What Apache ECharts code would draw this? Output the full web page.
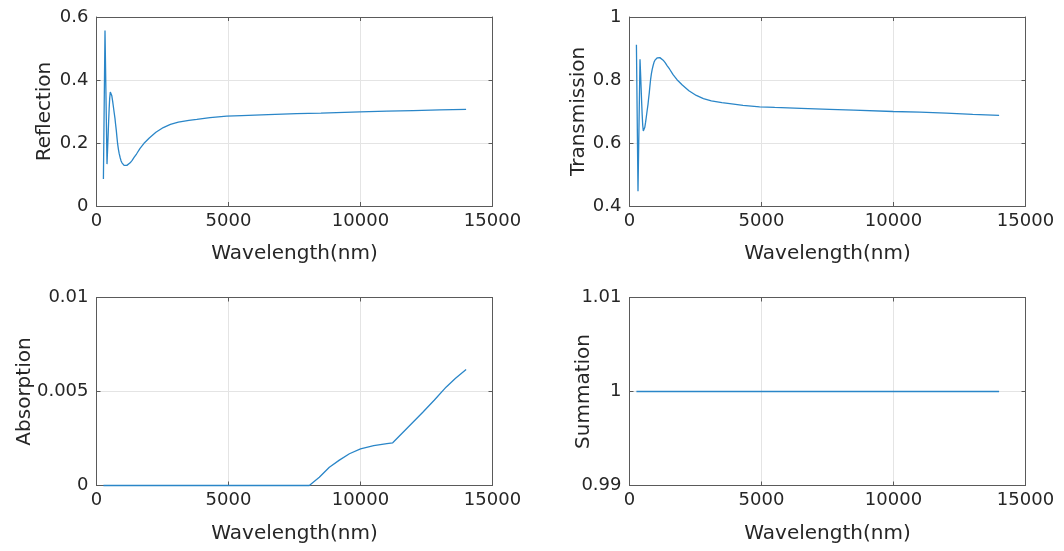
<!DOCTYPE html>
<html><head><meta charset="utf-8">
<script src="https://cdn.jsdelivr.net/npm/echarts@6/dist/echarts.min.js"></script>
<style>html,body{margin:0;padding:0;background:#fff}#c{width:1064px;height:551px}</style>
</head><body><div id="c"></div>
<script>
// ---- data ----
const xLabel = 'Wavelength(nm)';
const wlRT = [262, 322, 398, 420, 440, 460, 480, 500, 523, 550, 580, 610, 640, 670, 700, 720, 750, 775, 801, 830, 860, 895, 928, 965, 1000, 1045, 1091, 1150, 1200, 1275, 1350, 1430, 1515, 1650, 1800, 2000, 2250, 2530, 2800, 3100, 3500, 3800, 4300, 4930, 5500, 6500, 7580, 8500, 9980, 11000, 12000, 13000, 14000];
const reflection = [0.086, 0.557, 0.133, 0.18, 0.225, 0.27, 0.31, 0.343, 0.362, 0.359, 0.35, 0.334, 0.315, 0.296, 0.278, 0.262, 0.24, 0.218, 0.197, 0.18, 0.166, 0.154, 0.144, 0.137, 0.133, 0.129, 0.128, 0.129, 0.131, 0.137, 0.145, 0.155, 0.165, 0.183, 0.199, 0.216, 0.234, 0.249, 0.259, 0.266, 0.272, 0.275, 0.2805, 0.285, 0.287, 0.290, 0.293, 0.295, 0.299, 0.301, 0.303, 0.305, 0.3067];
const transmission = [0.912, 0.447, 0.866, 0.82, 0.775, 0.73, 0.69, 0.657, 0.638, 0.641, 0.65, 0.666, 0.685, 0.704, 0.722, 0.738, 0.76, 0.782, 0.803, 0.82, 0.834, 0.846, 0.856, 0.863, 0.867, 0.87, 0.871, 0.871, 0.869, 0.863, 0.855, 0.845, 0.835, 0.817, 0.801, 0.784, 0.766, 0.751, 0.741, 0.734, 0.728, 0.725, 0.7195, 0.715, 0.713, 0.71, 0.707, 0.7045, 0.700, 0.698, 0.695, 0.691, 0.688];
const wlA = [262, 2000, 4000, 6000, 8060, 8440, 8820, 9200, 9580, 10000, 10500, 11000, 11220, 11800, 12360, 12800, 13240, 13600, 14000];
const absorption = [0, 0, 0, 0, 0, 0.00044, 0.00097, 0.00135, 0.00169, 0.00195, 0.00212, 0.00223, 0.00227, 0.0031, 0.0039, 0.00455, 0.00523, 0.0057, 0.00617];
const wlS = [262, 3500, 7000, 10500, 14000];
const summation = [1, 1, 1, 1, 1];

const panels = [
  {name: 'Reflection',   wl: wlRT, y: reflection,   min: 0,    max: 0.6,  step: 0.2,   gap: 42},
  {name: 'Transmission', wl: wlRT, y: transmission, min: 0.4,  max: 1,    step: 0.2,   gap: 41},
  {name: 'Absorption',   wl: wlA,  y: absorption,   min: 0,    max: 0.01, step: 0.005, gap: 62},
  {name: 'Summation',    wl: wlS,  y: summation,    min: 0.99, max: 1.01, step: 0.01,  gap: 36}
];
const rects = [
  {left: 96.5, top: 17, width: 396, height: 189},
  {left: 629.5, top: 17, width: 396, height: 189},
  {left: 96.5, top: 297.5, width: 396, height: 188},
  {left: 629.5, top: 297.5, width: 396, height: 188}
];

const FONT = 'DejaVu Sans';
const TXT = '#262626';
const AX = '#5a5a5a';
const GRID = '#e4e4e4';
const fmt = v => String(+(+v).toFixed(6));

const grid = [], xAxis = [], yAxis = [], series = [];
panels.forEach((p, i) => {
  grid.push(Object.assign({containLabel: false}, rects[i]));
  const baseLine = {show: true, onZero: false, lineStyle: {color: AX, width: 1}};
  const tick = {show: true, inside: true, length: 4, lineStyle: {color: AX, width: 1}};
  xAxis.push({
    type: 'value', gridIndex: i, min: 0, max: 15000, interval: 5000, position: 'bottom',
    axisLine: baseLine, axisTick: tick,
    axisLabel: {fontSize: 18, color: TXT, margin: 6, fontFamily: FONT, formatter: fmt},
    splitLine: {show: true, lineStyle: {color: GRID, width: 1}},
    name: xLabel, nameLocation: 'middle', nameGap: 38, nameMoveOverlap: false,
    nameTextStyle: {fontSize: 20, color: TXT, fontFamily: FONT}
  });
  xAxis.push({
    type: 'value', gridIndex: i, min: 0, max: 15000, interval: 5000, position: 'top',
    axisLine: baseLine, axisTick: tick, axisLabel: {show: false}, splitLine: {show: false}
  });
  yAxis.push({
    type: 'value', gridIndex: i, min: p.min, max: p.max, interval: p.step, position: 'left',
    axisLine: baseLine, axisTick: tick,
    axisLabel: {fontSize: 18, color: TXT, margin: 8, fontFamily: FONT, formatter: fmt},
    splitLine: {show: true, lineStyle: {color: GRID, width: 1}},
    name: p.name, nameLocation: 'middle', nameRotate: 90, nameGap: p.gap, nameMoveOverlap: false,
    nameTextStyle: {fontSize: 20, color: TXT, fontFamily: FONT}
  });
  yAxis.push({
    type: 'value', gridIndex: i, min: p.min, max: p.max, interval: p.step, position: 'right',
    axisLine: baseLine, axisTick: tick, axisLabel: {show: false}, splitLine: {show: false}
  });
  series.push({
    type: 'line', xAxisIndex: i * 2, yAxisIndex: i * 2,
    data: p.wl.map((w, k) => [w, p.y[k]]),
    showSymbol: false, symbol: 'none', clip: false, z: 10, zlevel: 1,
    lineStyle: {color: '#2a86c8', width: 1.3}, itemStyle: {color: '#2a86c8'},
    animation: false
  });
});

const chart = echarts.init(document.getElementById('c'), null, {renderer: 'canvas'});
chart.setOption({backgroundColor: '#fff', animation: false, grid, xAxis, yAxis, series});
</script>
</body></html>
